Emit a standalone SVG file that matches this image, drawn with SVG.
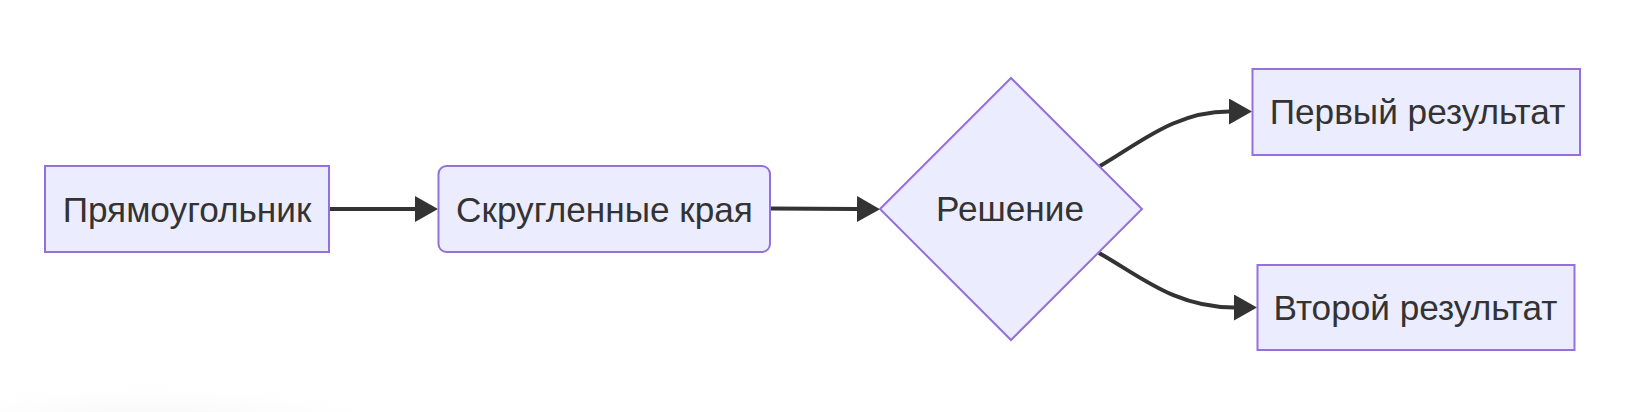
<svg xmlns="http://www.w3.org/2000/svg" width="1632" height="412" viewBox="0 0 1632 412">
  <style>
    .node { fill: #ECECFF; stroke: #9370DB; stroke-width: 2; }
    .label { font-family: "Liberation Sans", Arial, sans-serif; font-size: 35.2px; fill: #333333; text-anchor: middle; }
    .edge { fill: none; stroke: #333333; stroke-width: 4; }
  </style>
  <defs>
    <marker id="arrow" markerUnits="userSpaceOnUse" viewBox="0 0 23 26" refX="0" refY="13" markerWidth="23" markerHeight="26" orient="auto">
      <path d="M0,0 L23,13 L0,26 z" fill="#333333"/>
    </marker>
    <radialGradient id="shadow" cx="0.5" cy="0.5" r="0.5">
      <stop offset="0" stop-color="#ececec" stop-opacity="0.9"/>
      <stop offset="1" stop-color="#ffffff" stop-opacity="0"/>
    </radialGradient>
  </defs>
  <rect x="0" y="0" width="1632" height="412" fill="#ffffff"/>
  <ellipse cx="150" cy="440" rx="300" ry="65" fill="url(#shadow)"/>

  <g id="edges">
    <path class="edge" d="M329,209 L415,209" marker-end="url(#arrow)"/>
    <path class="edge" d="M770,208.5 L857,209" marker-end="url(#arrow)"/>
    <path class="edge" d="M1100,166 C1140,143 1175,111.5 1229,111.5" marker-end="url(#arrow)"/>
    <path class="edge" d="M1099,253 C1140,276 1175,307.5 1234,307.5" marker-end="url(#arrow)"/>
  </g>

  <g id="node-rect">
    <rect class="node" x="45" y="166" width="284" height="86"/>
    <text class="label" x="187" y="221.5">Прямоугольник</text>
  </g>
  <g id="node-rounded">
    <rect class="node" x="438.5" y="166" width="331.5" height="86" rx="8" ry="8"/>
    <text class="label" x="604.5" y="221.5">Скругленные края</text>
  </g>
  <g id="node-decision">
    <polygon class="node" points="880,209 1011,78 1142,209 1011,340"/>
    <text class="label" x="1010" y="220.5">Решение</text>
  </g>
  <g id="node-first">
    <rect class="node" x="1252.5" y="69" width="327.5" height="86"/>
    <text class="label" x="1417.5" y="124">Первый результат</text>
  </g>
  <g id="node-second">
    <rect class="node" x="1257.5" y="265" width="317" height="85"/>
    <text class="label" x="1415.5" y="320">Второй результат</text>
  </g>
</svg>
